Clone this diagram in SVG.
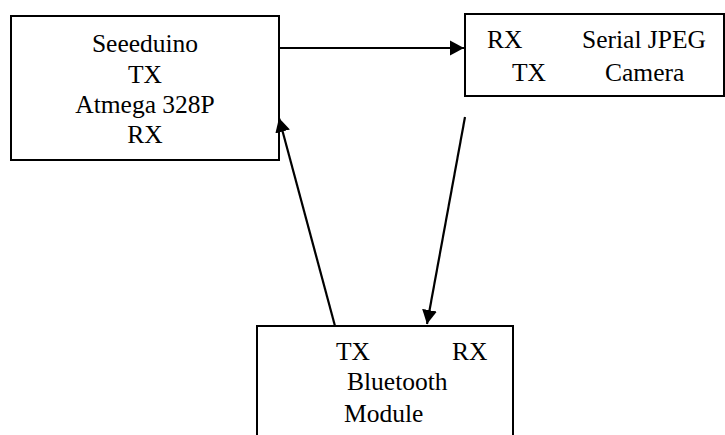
<svg xmlns="http://www.w3.org/2000/svg" width="725" height="435" viewBox="0 0 725 435">
<style>
.box{fill:#fff;stroke:#000;stroke-width:2}
.t{font-family:"Liberation Serif","Times New Roman",serif;font-size:25.5px;fill:#000}
.c{text-anchor:middle}
.ln{stroke:#000;stroke-width:2.2;fill:none;marker-end:url(#ah)}
</style>
<defs>
<marker id="ah" markerUnits="userSpaceOnUse" markerWidth="16" markerHeight="16" refX="14" refY="8" orient="auto">
<path d="M0,0.5 L14,8 L0,15.5 Z" fill="#000"/>
</marker>
</defs>
<rect width="725" height="435" fill="#fff"/>
<g id="seeeduino">
<rect class="box" x="11" y="16" width="268" height="144"/>
<text class="t c" x="145" y="52">Seeeduino</text>
<text class="t c" x="145" y="83">TX</text>
<text class="t c" x="145" y="113">Atmega 328P</text>
<text class="t c" x="145" y="143">RX</text>
</g>
<g id="camera">
<rect class="box" x="465" y="14" width="259" height="82"/>
<text class="t" x="487" y="48">RX</text>
<text class="t" x="582" y="48">Serial JPEG</text>
<text class="t" x="512" y="81">TX</text>
<text class="t" x="605" y="81">Camera</text>
</g>
<g id="bluetooth">
<rect class="box" x="257" y="326" width="256" height="130"/>
<text class="t" x="336" y="360">TX</text>
<text class="t" x="452" y="360">RX</text>
<text class="t" x="347" y="390">Bluetooth</text>
<text class="t" x="344" y="422">Module</text>
</g>
<g id="connectors">
<line class="ln" x1="280" y1="48" x2="464" y2="48"/>
<line class="ln" x1="335" y1="326" x2="279" y2="118"/>
<line class="ln" x1="465" y1="117" x2="427" y2="324"/>
</g>
</svg>
